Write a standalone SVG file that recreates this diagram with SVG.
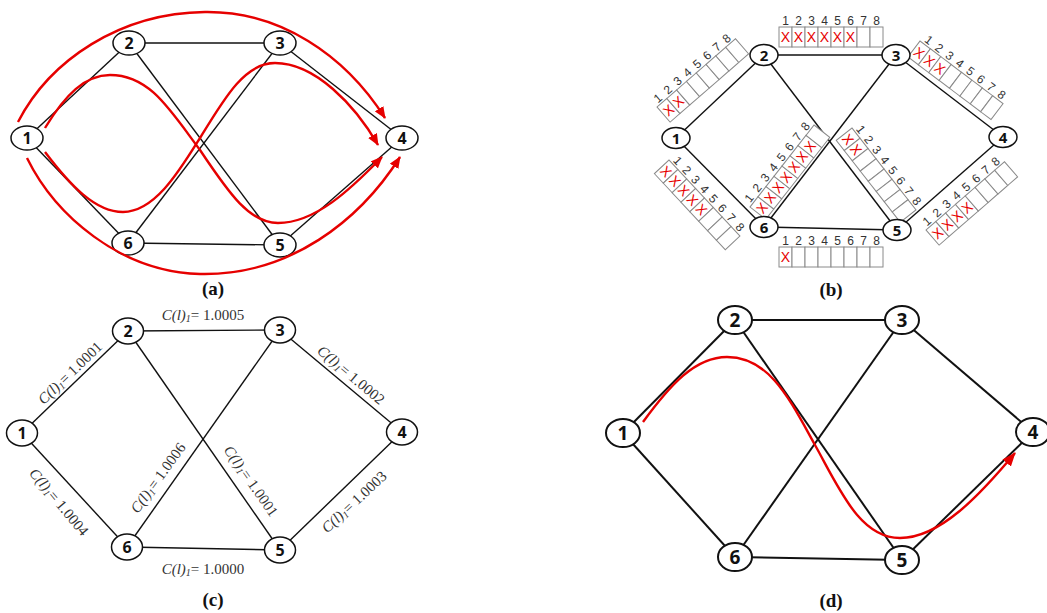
<svg xmlns="http://www.w3.org/2000/svg" xmlns:xlink="http://www.w3.org/1999/xlink" width="1047" height="613" viewBox="0 0 1047 613">
  <style>
    .edge { stroke: #111; fill: none; stroke-width: 1.4; }
    .edge-d { stroke: #111; fill: none; stroke-width: 2; }
    .nd ellipse { fill: #fff; stroke: #111; stroke-width: 1.5; }
    .ndd ellipse { fill: #fff; stroke: #111; stroke-width: 2; }
    .nt { font-family: "Open Sans", "Liberation Sans", sans-serif; font-weight: 700; text-anchor: middle; dominant-baseline: central; fill: #111; }
    .route { stroke: #e60000; fill: none; stroke-width: 2.4; }
    .cap { font-family: "Liberation Serif", serif; font-weight: 700; font-size: 19px; text-anchor: middle; fill: #111; }
    .box { fill: #fff; stroke: #8a8a8a; stroke-width: 1; }
    .num { font-family: "Liberation Sans", sans-serif; font-size: 12px; text-anchor: middle; fill: #333; }
    .x { font-family: "Liberation Sans", sans-serif; font-size: 14px; text-anchor: middle; dominant-baseline: central; fill: #e60000; }
    .lbl { font-family: "Liberation Serif", serif; font-size: 15px; text-anchor: middle; dominant-baseline: central; fill: #333; }
    .it { font-style: italic; }
  </style>
  <defs>
    <marker id="ah" viewBox="0 0 12 10" refX="11" refY="5" markerWidth="12" markerHeight="10" markerUnits="userSpaceOnUse" orient="auto">
      <path d="M0,0 L12,5 L0,10 z" fill="#e60000"/>
    </marker>
    <marker id="ahd" viewBox="0 0 14 11" refX="13" refY="5.5" markerWidth="14" markerHeight="11" markerUnits="userSpaceOnUse" orient="auto">
      <path d="M0,0 L14,5.5 L0,11 z" fill="#e60000"/>
    </marker>
    <!-- eight wavelength slots with their indices -->
    <g id="slots">
      <rect class="box" x="0" y="0" width="13" height="20"/>
      <rect class="box" x="13" y="0" width="13" height="20"/>
      <rect class="box" x="26" y="0" width="13" height="20"/>
      <rect class="box" x="39" y="0" width="13" height="20"/>
      <rect class="box" x="52" y="0" width="13" height="20"/>
      <rect class="box" x="65" y="0" width="13" height="20"/>
      <rect class="box" x="78" y="0" width="13" height="20"/>
      <rect class="box" x="91" y="0" width="13" height="20"/>
      <text class="num" x="6.5" y="-2">1</text>
      <text class="num" x="19.5" y="-2">2</text>
      <text class="num" x="32.5" y="-2">3</text>
      <text class="num" x="45.5" y="-2">4</text>
      <text class="num" x="58.5" y="-2">5</text>
      <text class="num" x="71.5" y="-2">6</text>
      <text class="num" x="84.5" y="-2">7</text>
      <text class="num" x="97.5" y="-2">8</text>
    </g>
  </defs>

  <rect width="1047" height="613" fill="#fff"/>

  <!-- ===== (a) candidate routes ===== -->
  <g id="a-links">
    <line class="edge" x1="27" y1="138" x2="129" y2="43"/>
    <line class="edge" x1="27" y1="138" x2="128" y2="243"/>
    <line class="edge" x1="129" y1="43" x2="280" y2="43"/>
    <line class="edge" x1="129" y1="43" x2="280" y2="245"/>
    <line class="edge" x1="128" y1="243" x2="280" y2="43"/>
    <line class="edge" x1="280" y1="43" x2="402" y2="138"/>
    <line class="edge" x1="128" y1="243" x2="280" y2="245"/>
    <line class="edge" x1="280" y1="245" x2="402" y2="138"/>
  </g>
  <g id="a-n1" class="nd"><ellipse cx="27" cy="138" rx="16" ry="12"/><text class="nt" x="27" y="138" font-size="16">1</text></g>
  <g id="a-n2" class="nd"><ellipse cx="129" cy="43" rx="16" ry="12"/><text class="nt" x="129" y="43" font-size="16">2</text></g>
  <g id="a-n3" class="nd"><ellipse cx="280" cy="43" rx="16" ry="12"/><text class="nt" x="280" y="43" font-size="16">3</text></g>
  <g id="a-n4" class="nd"><ellipse cx="402" cy="138" rx="16" ry="12"/><text class="nt" x="402" y="138" font-size="16">4</text></g>
  <g id="a-n5" class="nd"><ellipse cx="280" cy="245" rx="16" ry="12"/><text class="nt" x="280" y="245" font-size="16">5</text></g>
  <g id="a-n6" class="nd"><ellipse cx="128" cy="243" rx="16" ry="12"/><text class="nt" x="128" y="243" font-size="16">6</text></g>
  <g id="a-routes">
    <path class="route" marker-end="url(#ah)" d="M18,122 C50,60 120,13 205,12 C280,11 345,55 385,118"/>
    <path class="route" marker-end="url(#ah)" d="M45,128 C65,95 85,75 110,75 C150,75 170,110 200,150 C230,195 250,223 278,223 C315,223 350,190 382,157"/>
    <path class="route" marker-end="url(#ah)" d="M45,152 C70,185 95,212 123,212 C155,212 180,170 200,138 C225,97 245,63 275,63 C315,63 355,105 378,145"/>
    <path class="route" marker-end="url(#ah)" d="M27,158 C55,215 120,272 200,274 C290,276 360,220 400,157"/>
  </g>
  <text class="cap" x="213" y="295">(a)</text>

  <!-- ===== (b) slot occupancy per link ===== -->
  <g id="b-links">
    <line class="edge" x1="676" y1="138" x2="764" y2="55"/>
    <line class="edge" x1="676" y1="138" x2="764" y2="227"/>
    <line class="edge" x1="764" y1="55" x2="896" y2="55"/>
    <line class="edge" x1="764" y1="55" x2="897" y2="230"/>
    <line class="edge" x1="764" y1="227" x2="896" y2="55"/>
    <line class="edge" x1="896" y1="55" x2="1003" y2="137"/>
    <line class="edge" x1="764" y1="227" x2="897" y2="230"/>
    <line class="edge" x1="897" y1="230" x2="1003" y2="137"/>
  </g>
  <g id="b-slots">
    <g transform="translate(779,27)">
      <use xlink:href="#slots"/>
      <text class="x" x="6.5" y="10">X</text><text class="x" x="19.5" y="10">X</text><text class="x" x="32.5" y="10">X</text>
      <text class="x" x="45.5" y="10">X</text><text class="x" x="58.5" y="10">X</text><text class="x" x="71.5" y="10">X</text>
    </g>
    <g transform="translate(779,247)">
      <use xlink:href="#slots"/>
      <text class="x" x="6.5" y="10">X</text>
    </g>
    <g transform="translate(657,107) rotate(-41)">
      <use xlink:href="#slots"/>
      <text class="x" x="6.5" y="10">X</text><text class="x" x="19.5" y="10">X</text>
    </g>
    <g transform="translate(920,41) rotate(37)">
      <use xlink:href="#slots"/>
      <text class="x" x="6.5" y="10">X</text><text class="x" x="19.5" y="10">X</text><text class="x" x="32.5" y="10">X</text>
    </g>
    <g transform="translate(669,160) rotate(47)">
      <use xlink:href="#slots"/>
      <text class="x" x="6.5" y="10">X</text><text class="x" x="19.5" y="10">X</text><text class="x" x="32.5" y="10">X</text>
      <text class="x" x="45.5" y="10">X</text><text class="x" x="58.5" y="10">X</text>
    </g>
    <g transform="translate(750,207) rotate(-52)">
      <use xlink:href="#slots"/>
      <text class="x" x="6.5" y="10">X</text><text class="x" x="19.5" y="10">X</text><text class="x" x="32.5" y="10">X</text>
      <text class="x" x="45.5" y="10">X</text><text class="x" x="58.5" y="10">X</text><text class="x" x="71.5" y="10">X</text>
      <text class="x" x="84.5" y="10">X</text>
    </g>
    <g transform="translate(852,128) rotate(52)">
      <use xlink:href="#slots"/>
      <text class="x" x="6.5" y="10">X</text><text class="x" x="19.5" y="10">X</text>
    </g>
    <g transform="translate(926,230) rotate(-41)">
      <use xlink:href="#slots"/>
      <text class="x" x="6.5" y="10">X</text><text class="x" x="19.5" y="10">X</text><text class="x" x="32.5" y="10">X</text>
      <text class="x" x="45.5" y="10">X</text>
    </g>
  </g>
  <g id="b-n1" class="nd"><ellipse cx="676" cy="138" rx="14" ry="10.5"/><text class="nt" x="676" y="138" font-size="15">1</text></g>
  <g id="b-n2" class="nd"><ellipse cx="764" cy="55" rx="14" ry="10.5"/><text class="nt" x="764" y="55" font-size="15">2</text></g>
  <g id="b-n3" class="nd"><ellipse cx="896" cy="55" rx="14" ry="10.5"/><text class="nt" x="896" y="55" font-size="15">3</text></g>
  <g id="b-n4" class="nd"><ellipse cx="1003" cy="137" rx="14" ry="10.5"/><text class="nt" x="1003" y="137" font-size="15">4</text></g>
  <g id="b-n5" class="nd"><ellipse cx="897" cy="230" rx="14" ry="10.5"/><text class="nt" x="897" y="230" font-size="15">5</text></g>
  <g id="b-n6" class="nd"><ellipse cx="764" cy="227" rx="14" ry="10.5"/><text class="nt" x="764" y="227" font-size="15">6</text></g>
  <text class="cap" x="831" y="296">(b)</text>

  <!-- ===== (c) link costs ===== -->
  <g id="c-links">
    <line class="edge" x1="22" y1="433" x2="128" y2="331"/>
    <line class="edge" x1="22" y1="433" x2="127" y2="547"/>
    <line class="edge" x1="128" y1="331" x2="280" y2="330"/>
    <line class="edge" x1="128" y1="331" x2="280" y2="550"/>
    <line class="edge" x1="127" y1="547" x2="280" y2="330"/>
    <line class="edge" x1="280" y1="330" x2="402" y2="432"/>
    <line class="edge" x1="127" y1="547" x2="280" y2="550"/>
    <line class="edge" x1="280" y1="550" x2="402" y2="432"/>
  </g>
  <g id="c-costs">
    <text class="lbl" x="203" y="315"><tspan class="it">C(l)</tspan><tspan class="it" font-size="10" dy="3">1</tspan><tspan dy="-3">= 1.0005</tspan></text>
    <text class="lbl" x="203" y="569"><tspan class="it">C(l)</tspan><tspan class="it" font-size="10" dy="3">1</tspan><tspan dy="-3">= 1.0000</tspan></text>
    <text class="lbl" transform="translate(70,373) rotate(-44)"><tspan class="it">C(l)</tspan><tspan class="it" font-size="10" dy="3">1</tspan><tspan dy="-3">= 1.0001</tspan></text>
    <text class="lbl" transform="translate(351,375) rotate(40)"><tspan class="it">C(l)</tspan><tspan class="it" font-size="10" dy="3">1</tspan><tspan dy="-3">= 1.0002</tspan></text>
    <text class="lbl" transform="translate(59,502) rotate(50)"><tspan class="it">C(l)</tspan><tspan class="it" font-size="10" dy="3">1</tspan><tspan dy="-3">= 1.0004</tspan></text>
    <text class="lbl" transform="translate(158,478) rotate(-54)"><tspan class="it">C(l)</tspan><tspan class="it" font-size="10" dy="3">1</tspan><tspan dy="-3">= 1.0006</tspan></text>
    <text class="lbl" transform="translate(251,481) rotate(55)"><tspan class="it">C(l)</tspan><tspan class="it" font-size="10" dy="3">1</tspan><tspan dy="-3">= 1.0001</tspan></text>
    <text class="lbl" transform="translate(354,502) rotate(-43)"><tspan class="it">C(l)</tspan><tspan class="it" font-size="10" dy="3">1</tspan><tspan dy="-3">= 1.0003</tspan></text>
  </g>
  <g id="c-n1" class="nd"><ellipse cx="22" cy="433" rx="15.5" ry="13"/><text class="nt" x="22" y="433" font-size="16">1</text></g>
  <g id="c-n2" class="nd"><ellipse cx="128" cy="331" rx="15.5" ry="13"/><text class="nt" x="128" y="331" font-size="16">2</text></g>
  <g id="c-n3" class="nd"><ellipse cx="280" cy="330" rx="15.5" ry="13"/><text class="nt" x="280" y="330" font-size="16">3</text></g>
  <g id="c-n4" class="nd"><ellipse cx="402" cy="432" rx="15.5" ry="13"/><text class="nt" x="402" y="432" font-size="16">4</text></g>
  <g id="c-n5" class="nd"><ellipse cx="280" cy="550" rx="15.5" ry="13"/><text class="nt" x="280" y="550" font-size="16">5</text></g>
  <g id="c-n6" class="nd"><ellipse cx="127" cy="547" rx="15.5" ry="13"/><text class="nt" x="127" y="547" font-size="16">6</text></g>
  <text class="cap" x="213" y="606">(c)</text>

  <!-- ===== (d) selected route ===== -->
  <g id="d-links">
    <line class="edge-d" x1="623" y1="433" x2="735" y2="320"/>
    <line class="edge-d" x1="623" y1="433" x2="735" y2="557"/>
    <line class="edge-d" x1="735" y1="320" x2="902" y2="320"/>
    <line class="edge-d" x1="735" y1="320" x2="902" y2="560"/>
    <line class="edge-d" x1="735" y1="557" x2="902" y2="320"/>
    <line class="edge-d" x1="902" y1="320" x2="1033" y2="432"/>
    <line class="edge-d" x1="735" y1="557" x2="902" y2="560"/>
    <line class="edge-d" x1="902" y1="560" x2="1033" y2="432"/>
  </g>
  <g id="d-n1" class="ndd"><ellipse cx="623" cy="433" rx="17" ry="14"/><text class="nt" x="623" y="433" font-size="19">1</text></g>
  <g id="d-n2" class="ndd"><ellipse cx="735" cy="320" rx="17" ry="14"/><text class="nt" x="735" y="320" font-size="19">2</text></g>
  <g id="d-n3" class="ndd"><ellipse cx="902" cy="320" rx="17" ry="14"/><text class="nt" x="902" y="320" font-size="19">3</text></g>
  <g id="d-n4" class="ndd"><ellipse cx="1033" cy="432" rx="17" ry="14"/><text class="nt" x="1033" y="432" font-size="19">4</text></g>
  <g id="d-n5" class="ndd"><ellipse cx="902" cy="560" rx="17" ry="14"/><text class="nt" x="902" y="560" font-size="19">5</text></g>
  <g id="d-n6" class="ndd"><ellipse cx="735" cy="557" rx="17" ry="14"/><text class="nt" x="735" y="557" font-size="19">6</text></g>
  <g id="d-route">
    <path class="route" stroke-width="3" marker-end="url(#ahd)" d="M643,422 C670,385 695,357 727,357 C770,357 790,400 815,445 C840,490 860,538 900,538 C940,538 980,495 1015,453"/>
  </g>
  <text class="cap" x="831" y="607">(d)</text>
</svg>
